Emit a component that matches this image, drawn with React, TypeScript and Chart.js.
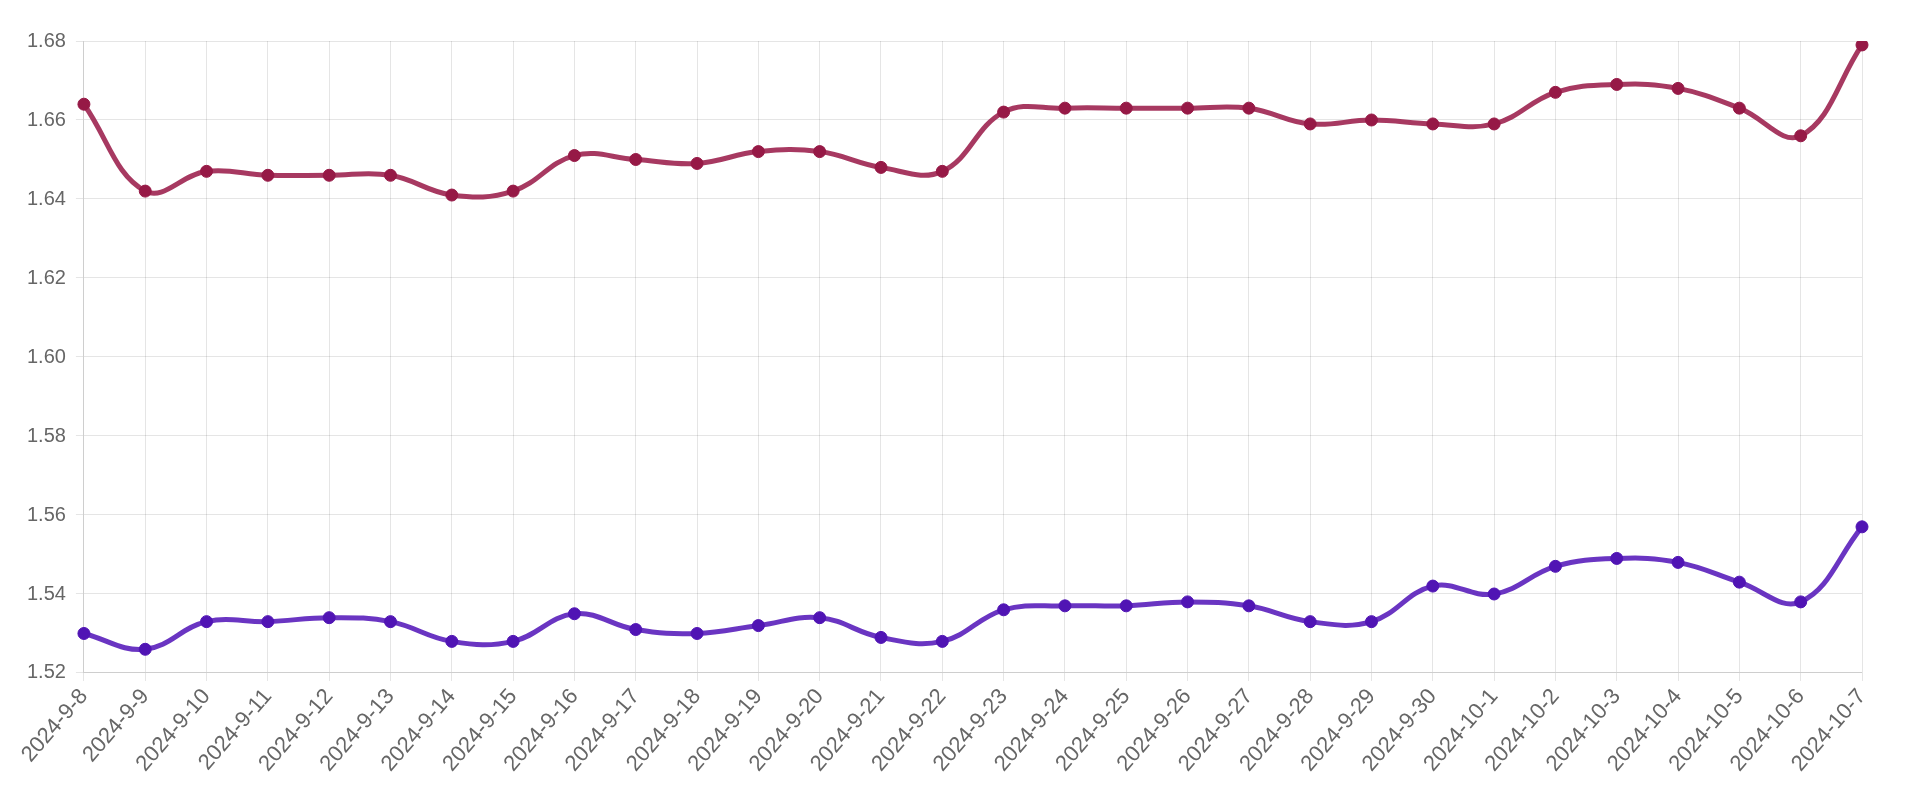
import React, { useEffect, useRef } from "react";
import { Chart, registerables } from "chart.js";

Chart.register(...registerables);

const labels = [
  "2024-9-8", "2024-9-9", "2024-9-10", "2024-9-11", "2024-9-12", "2024-9-13", "2024-9-14",
  "2024-9-15", "2024-9-16", "2024-9-17", "2024-9-18", "2024-9-19", "2024-9-20", "2024-9-21",
  "2024-9-22", "2024-9-23", "2024-9-24", "2024-9-25", "2024-9-26", "2024-9-27", "2024-9-28",
  "2024-9-29", "2024-9-30", "2024-10-1", "2024-10-2", "2024-10-3", "2024-10-4", "2024-10-5",
  "2024-10-6", "2024-10-7",
];

const seriesA = [
  1.664, 1.642, 1.647, 1.646, 1.646, 1.646, 1.641, 1.642, 1.651, 1.650, 1.649, 1.652, 1.652, 1.648,
  1.647, 1.662, 1.663, 1.663, 1.663, 1.663, 1.659, 1.660, 1.659, 1.659, 1.667, 1.669, 1.668, 1.663,
  1.656, 1.679,
];

const seriesB = [
  1.530, 1.526, 1.533, 1.533, 1.534, 1.533, 1.528, 1.528, 1.535, 1.531, 1.530, 1.532, 1.534, 1.529,
  1.528, 1.536, 1.537, 1.537, 1.538, 1.537, 1.533, 1.533, 1.542, 1.540, 1.547, 1.549, 1.548, 1.543,
  1.538, 1.557,
];

const yMin = 1.52;
const yMax = 1.68;
const yStep = 0.02;

export default function App() {
  const ref = useRef<HTMLCanvasElement | null>(null);
  useEffect(() => {
    if (!ref.current) return;
    const redLine = "rgba(155, 30, 75, 0.88)";
    const redPoint = "rgb(150, 25, 70)";
    const purpleLine = "rgba(85, 25, 185, 0.88)";
    const purplePoint = "rgb(80, 20, 180)";
    const chart = new Chart(ref.current, {
      type: "line",
      data: {
        labels,
        datasets: [
          {
            data: seriesA,
            borderColor: redLine,
            backgroundColor: redPoint,
            pointBackgroundColor: redPoint,
            pointBorderColor: redPoint,
            borderWidth: 5,
            pointRadius: 6,
            pointBorderWidth: 1,
            tension: 0.4,
            fill: false,
          },
          {
            data: seriesB,
            borderColor: purpleLine,
            backgroundColor: purplePoint,
            pointBackgroundColor: purplePoint,
            pointBorderColor: purplePoint,
            borderWidth: 5,
            pointRadius: 6,
            pointBorderWidth: 1,
            tension: 0.4,
            fill: false,
          },
        ],
      },
      options: {
        animation: false,
        responsive: true,
        maintainAspectRatio: false,
        layout: { padding: { top: 33, right: 50, left: 9, bottom: 12 } },
        plugins: { legend: { display: false }, tooltip: { enabled: false } },
        scales: {
          x: {
            grid: { color: "rgba(0,0,0,0.1)" },
            ticks: {
              autoSkip: false,
              minRotation: 49,
              maxRotation: 49,
              color: "#666",
              font: { family: "Liberation Sans, Arial", size: 22 },
            },
          },
          y: {
            min: yMin,
            max: yMax,
            grid: { color: "rgba(0,0,0,0.1)" },
            ticks: {
              stepSize: yStep,
              padding: 10,
              color: "#666",
              font: { family: "Liberation Sans, Arial", size: 20 },
              callback: (v: any) => Number(v).toFixed(2),
            },
          },
        },
      },
    });
    return () => chart.destroy();
  }, []);
  return (
    <div style={{ width: "100%", height: "784px", position: "relative" }}>
      <canvas ref={ref} />
    </div>
  );
}
